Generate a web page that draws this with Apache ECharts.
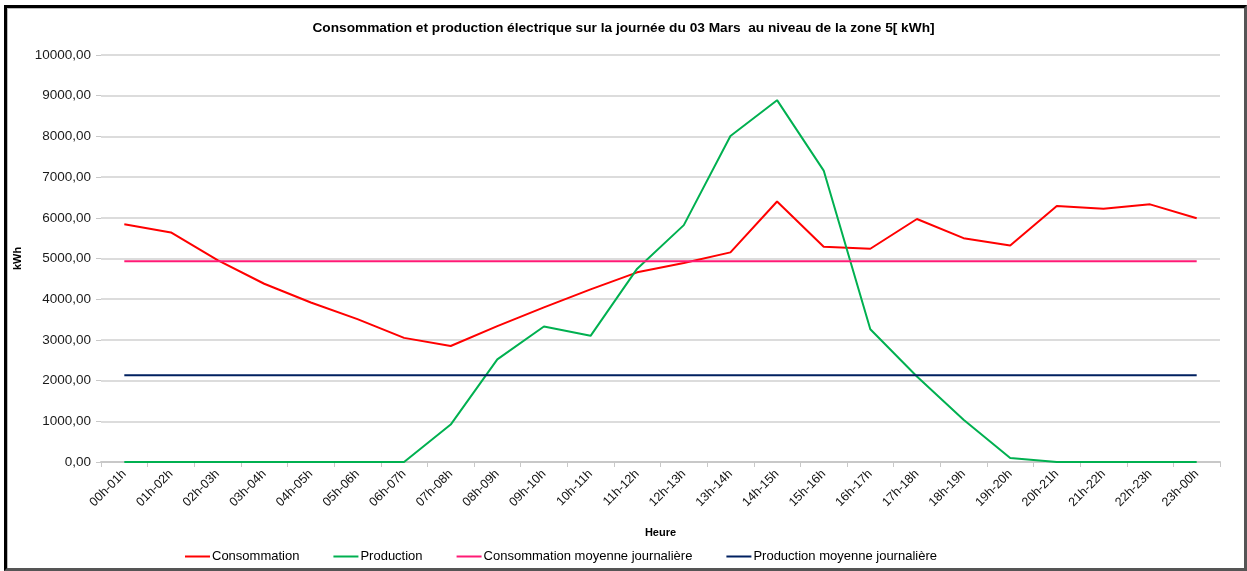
<!DOCTYPE html>
<html>
<head>
<meta charset="utf-8">
<script src="https://cdn.jsdelivr.net/npm/echarts@6/dist/echarts.min.js"></script>
<style>
html,body{margin:0;padding:0;background:#fff;}
#frame{position:absolute;left:4px;top:5px;width:1237px;height:560px;border-left:3px solid #000;border-top:3px solid #000;border-right:3px solid #555;border-bottom:3px solid #555;box-shadow:inset 1px 1px 0 #bbb;}
#chart{position:absolute;left:0;top:0;width:1247px;height:571px;}
</style>
</head>
<body>
<div id="frame"></div>
<div id="chart"></div>
<script>
const categories = ["00h-01h","01h-02h","02h-03h","03h-04h","04h-05h","05h-06h","06h-07h","07h-08h","08h-09h","09h-10h","10h-11h","11h-12h","12h-13h","13h-14h","14h-15h","15h-16h","16h-17h","17h-18h","18h-19h","19h-20h","20h-21h","21h-22h","22h-23h","23h-00h"];
const consommation = [5840,5640,4960,4380,3920,3510,3050,2850,3340,3800,4240,4660,4890,5150,6400,5290,5240,5970,5500,5320,6290,6220,6330,5990];
const production = [0,0,0,0,0,0,0,920,2520,3330,3100,4750,5820,8010,8890,7160,3260,2100,1040,100,0,0,0,0];
const consommationMoyenne = [4935,4935,4935,4935,4935,4935,4935,4935,4935,4935,4935,4935,4935,4935,4935,4935,4935,4935,4935,4935,4935,4935,4935,4935];
const productionMoyenne = [2130,2130,2130,2130,2130,2130,2130,2130,2130,2130,2130,2130,2130,2130,2130,2130,2130,2130,2130,2130,2130,2130,2130,2130];
const seriesNames = ["Consommation","Production","Consommation moyenne journalière","Production moyenne journalière"];
const title = "Consommation et production électrique sur la journée du 03 Mars  au niveau de la zone 5[ kWh]";

const chart = echarts.init(document.getElementById('chart'), null, {renderer:'canvas'});
const colors = ['#ff0000','#00b050','#ff1a75','#002060'];
const mk = (name, data, color) => ({
  name, type:'line', data, symbol:'none', smooth:false,
  lineStyle:{color, width:2}, itemStyle:{color}
});
chart.setOption({
  backgroundColor:'transparent',
  animation:false,
  title:{text:title, left:'center', top:16,
    textStyle:{fontFamily:'Liberation Sans', fontWeight:'bold', fontSize:13.7, color:'#000'}},
  legend:{bottom:3, left:180, icon:'rect', itemWidth:25, itemHeight:2, itemGap:34,
    textStyle:{fontFamily:'Liberation Sans', fontSize:13, color:'#000', padding:[0,0,0,-3]},
    data:seriesNames},
  grid:{left:101, right:27, top:55, bottom:109, containLabel:false},
  xAxis:{type:'category', data:categories, boundaryGap:true,
    name:'Heure', nameLocation:'middle', nameGap:65,
    nameTextStyle:{fontFamily:'Liberation Sans', fontWeight:'bold', fontSize:11, color:'#000'},
    axisLine:{lineStyle:{color:'#c8c8c8', width:2}},
    axisTick:{show:true, length:5, lineStyle:{color:'#c8c8c8'}},
    axisLabel:{rotate:45, margin:10, interval:0, fontFamily:'Liberation Sans', fontSize:12.5, color:'#111'}},
  yAxis:{type:'value', min:0, max:10000, interval:1000,
    name:'kWh', nameLocation:'middle', nameGap:75, nameRotate:90,
    nameTextStyle:{fontFamily:'Liberation Sans', fontWeight:'bold', fontSize:11, color:'#000'},
    axisLine:{show:false},
    axisTick:{show:true, length:5, lineStyle:{color:'#c8c8c8'}},
    axisLabel:{margin:10, fontFamily:'Liberation Sans', fontSize:13.5, color:'#1a1a1a',
      formatter:v => v.toFixed(2).replace('.', ',')},
    splitLine:{lineStyle:{color:'#d0d0d0', width:1.5}}},
  series:[
    mk(seriesNames[0], consommation, colors[0]),
    mk(seriesNames[1], production, colors[1]),
    mk(seriesNames[2], consommationMoyenne, colors[2]),
    mk(seriesNames[3], productionMoyenne, colors[3])
  ]
});
</script>
</body>
</html>
